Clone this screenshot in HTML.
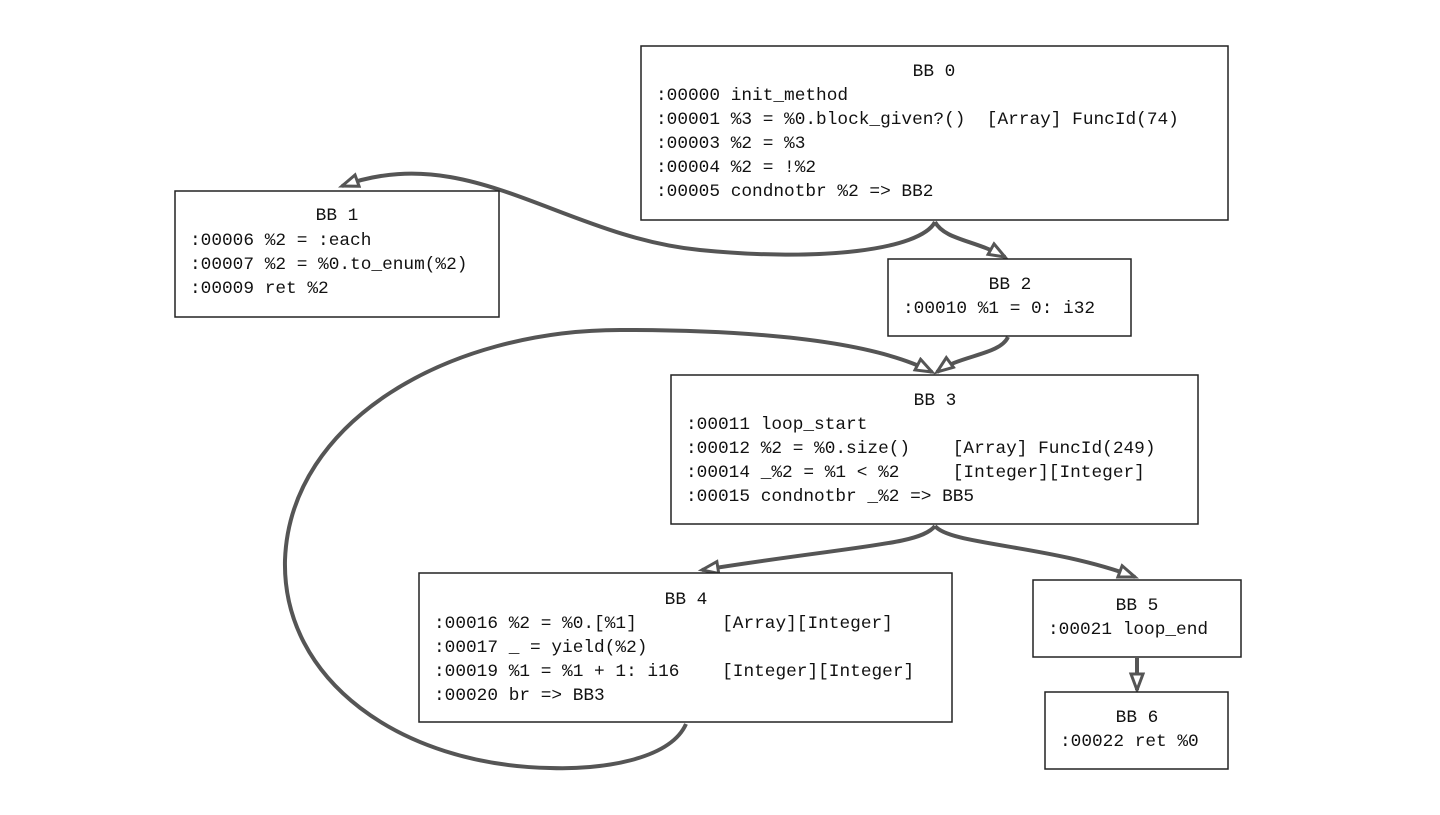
<!DOCTYPE html>
<html><head><meta charset="utf-8"><style>
html,body{margin:0;padding:0;background:#fff;}
svg text{font-family:"Liberation Mono","DejaVu Sans Mono",monospace;font-size:17.8px;fill:#111;dominant-baseline:central;white-space:pre;}
</style></head><body>
<svg width="1440" height="810" xmlns="http://www.w3.org/2000/svg">
<defs>
<marker id="a" markerUnits="userSpaceOnUse" markerWidth="24" markerHeight="20" refX="18" refY="8" orient="auto">
<path d="M2,2 L18,8 L2,14 Z" fill="#fff" stroke="#555" stroke-width="3" stroke-linejoin="miter"/>
</marker>
</defs>
<g fill="none" stroke="#555" stroke-width="4">
<path d="M935,222 C920,250 820,262 700,250 C560,236 470,140 342,186" marker-end="url(#a)"/>
<path d="M935,222 C945,240 975,240 1005,257" marker-end="url(#a)"/>
<path d="M1008,337 C1000,355 960,355 937,372" marker-end="url(#a)"/>
<path d="M686,724 C670,760 600,770 550,768 C400,765 282,680 285,560 C290,420 450,330 620,330 C780,330 880,345 932,372" marker-end="url(#a)"/>
<path d="M935,526 C920,545 860,545 702,570" marker-end="url(#a)"/>
<path d="M935,526 C950,545 1050,545 1135,577" marker-end="url(#a)"/>
<path d="M1137,658 L1137,690" marker-end="url(#a)"/>
</g>
<g fill="#fff" stroke="#222" stroke-width="1.5">
<rect x="641" y="46" width="587" height="174"/>
<rect x="175" y="191" width="324" height="126"/>
<rect x="888" y="259" width="243" height="77"/>
<rect x="671" y="375" width="527" height="149"/>
<rect x="419" y="573" width="533" height="149"/>
<rect x="1033" y="580" width="208" height="77"/>
<rect x="1045" y="692" width="183" height="77"/>
</g>
<text x="934" y="72" text-anchor="middle">BB 0</text>
<text x="656" y="96">:00000 init_method</text>
<text x="656" y="120">:00001 %3 = %0.block_given?()  [Array] FuncId(74)</text>
<text x="656" y="144">:00003 %2 = %3</text>
<text x="656" y="168">:00004 %2 = !%2</text>
<text x="656" y="192">:00005 condnotbr %2 =&gt; BB2</text>

<text x="337" y="216" text-anchor="middle">BB 1</text>
<text x="190" y="241">:00006 %2 = :each</text>
<text x="190" y="265">:00007 %2 = %0.to_enum(%2)</text>
<text x="190" y="289">:00009 ret %2</text>

<text x="1010" y="285" text-anchor="middle">BB 2</text>
<text x="903" y="309">:00010 %1 = 0: i32</text>

<text x="935" y="401" text-anchor="middle">BB 3</text>
<text x="686" y="425">:00011 loop_start</text>
<text x="686" y="449">:00012 %2 = %0.size()    [Array] FuncId(249)</text>
<text x="686" y="473">:00014 _%2 = %1 &lt; %2     [Integer][Integer]</text>
<text x="686" y="497">:00015 condnotbr _%2 =&gt; BB5</text>

<text x="686" y="600" text-anchor="middle">BB 4</text>
<text x="434" y="624">:00016 %2 = %0.[%1]        [Array][Integer]</text>
<text x="434" y="648">:00017 _ = yield(%2)</text>
<text x="434" y="672">:00019 %1 = %1 + 1: i16    [Integer][Integer]</text>
<text x="434" y="696">:00020 br =&gt; BB3</text>

<text x="1137" y="606" text-anchor="middle">BB 5</text>
<text x="1048" y="630">:00021 loop_end</text>

<text x="1137" y="718" text-anchor="middle">BB 6</text>
<text x="1060" y="742">:00022 ret %0</text>
</svg>
</body></html>
